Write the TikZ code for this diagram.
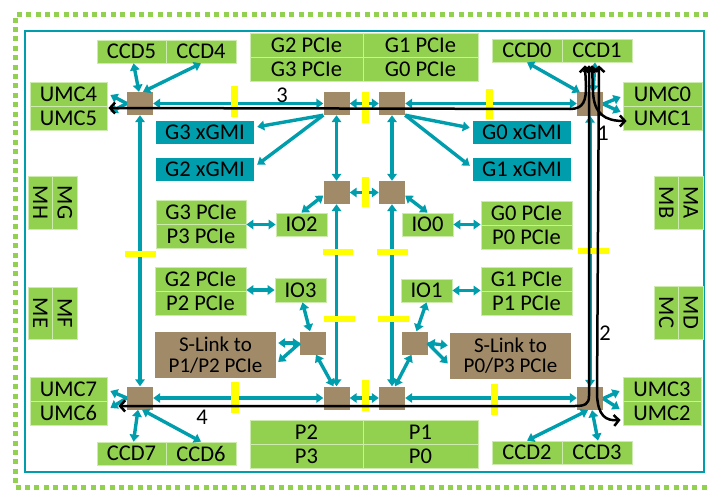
\documentclass[tikz,border=0pt]{standalone}
\usepackage{fontspec}
\setmainfont{Carlito}
\usetikzlibrary{arrows.meta,calc}
\definecolor{gr}{RGB}{146,208,80}
\definecolor{tl}{RGB}{0,158,172}
\definecolor{brn}{RGB}{160,138,104}
\definecolor{yl}{RGB}{255,255,0}
\definecolor{gline}{RGB}{205,235,175}
\begin{document}
\begin{tikzpicture}[x=1pt,y=-1pt,
 font=\fontsize{22.5}{22.5}\selectfont,
 gbox/.style={fill=gr,draw=gline,line width=0.8pt,inner sep=0pt,minimum height=24,text=black},
 tbox/.style={fill=tl,draw=none,inner sep=0pt,minimum width=98,minimum height=23},
 sw/.style={fill=brn,draw=none,minimum width=26,minimum height=23,inner sep=0pt},
 slink/.style={fill=brn,draw=none,minimum width=121,minimum height=46,inner sep=0pt,align=center,font=\fontsize{21}{20.5}\selectfont},
 ybar/.style={fill=yl,draw=none},
 con/.style={draw=tl,line width=3.4pt,{Triangle[length=7pt,width=9.5pt]}-{Triangle[length=7pt,width=9.5pt]}},
 conone/.style={draw=tl,line width=3.4pt,-{Triangle[length=7pt,width=9.5pt]}},
 bk/.style={draw=black,line width=2.5pt,{Straight Barb[length=5pt,width=11pt]}-{Straight Barb[length=5pt,width=11pt]}},
 num/.style={inner sep=0pt,text=black}
]
\useasboundingbox (0,0) rectangle (708,492);
% frames
\draw[gr,line width=5pt,dash pattern=on 5pt off 4.4pt] (708,15) -- (15,15) -- (15,487) -- (708,487);
\draw[tl,line width=2.5pt] (25,31) rectangle (704,472);

% top boxes
\node[gbox,minimum width=69,minimum height=23] (CCD5) at (131.5,51.5) {CCD5};
\node[gbox,minimum width=70,minimum height=23] (CCD4) at (201,51.5) {CCD4};
\node[gbox,minimum width=113] (G2Pt) at (306.5,45) {G2 PCIe};
\node[gbox,minimum width=115] (G1Pt) at (420.5,45) {G1 PCIe};
\node[gbox,minimum width=113] (G3Pt) at (306.5,69) {G3 PCIe};
\node[gbox,minimum width=115] (G0Pt) at (420.5,69) {G0 PCIe};
\node[gbox,minimum width=70,minimum height=23] (CCD0) at (527,50.5) {CCD0};
\node[gbox,minimum width=70,minimum height=23] (CCD1) at (597,50.5) {CCD1};
\node[gbox,minimum width=77] (UMC4) at (68.5,94) {UMC4};
\node[gbox,minimum width=77] (UMC5) at (68.5,118) {UMC5};
\node[gbox,minimum width=79] (UMC0) at (662.5,94) {UMC0};
\node[gbox,minimum width=79] (UMC1) at (662.5,118) {UMC1};

% xGMI
\node[tbox] (G3x) at (205,132.5) {G3 xGMI};
\node[tbox] (G2x) at (205,169.5) {G2 xGMI};
\node[tbox] (G0x) at (522,132.5) {G0 xGMI};
\node[tbox] (G1x) at (522,169.5) {G1 xGMI};

% side memory
\node[gbox,rotate=-90,minimum width=53,minimum height=24.5] (MH) at (40.25,202.5) {MH};
\node[gbox,rotate=-90,minimum width=53,minimum height=24.5] (MG) at (64.75,202.5) {MG};
\node[gbox,rotate=-90,minimum width=52,minimum height=24.5] (ME) at (40.25,313) {ME};
\node[gbox,rotate=-90,minimum width=52,minimum height=24.5] (MF) at (64.75,313) {MF};
\node[gbox,rotate=-90,minimum width=53,minimum height=24.5] (MB) at (666.25,202.5) {MB};
\node[gbox,rotate=-90,minimum width=53,minimum height=24.5] (MA) at (690.75,202.5) {MA};
\node[gbox,rotate=-90,minimum width=53,minimum height=24.5] (MC) at (666.25,312.5) {MC};
\node[gbox,rotate=-90,minimum width=53,minimum height=24.5] (MD) at (690.75,312.5) {MD};

% middle PCIe and IO
\node[gbox,minimum width=90] (G3m) at (201,212) {G3 PCIe};
\node[gbox,minimum width=90] (P3m) at (201,236) {P3 PCIe};
\node[gbox,minimum width=51,minimum height=23] (IO2) at (301.5,224.5) {IO2};
\node[gbox,minimum width=91] (G2m) at (200.5,279) {G2 PCIe};
\node[gbox,minimum width=91] (P2m) at (200.5,303) {P2 PCIe};
\node[gbox,minimum width=51] (IO3) at (300.5,290) {IO3};
\node[gbox,minimum width=51,minimum height=23] (IO0) at (427.5,224.5) {IO0};
\node[gbox,minimum width=91] (G0m) at (526.5,213) {G0 PCIe};
\node[gbox,minimum width=91] (P0m) at (526.5,237) {P0 PCIe};
\node[gbox,minimum width=51,minimum height=23] (IO1) at (426.5,290.5) {IO1};
\node[gbox,minimum width=91] (G1m) at (526.5,279) {G1 PCIe};
\node[gbox,minimum width=91] (P1m) at (526.5,303) {P1 PCIe};

% S-Link
\node[slink] (SLL) at (215.5,355) {S-Link to\\P1/P2 PCIe};
\node[slink] (SLR) at (510.5,355.5) {S-Link to\\P0/P3 PCIe};

% bottom boxes
\node[gbox,minimum width=77] (UMC7) at (68.5,389) {UMC7};
\node[gbox,minimum width=77] (UMC6) at (68.5,413) {UMC6};
\node[gbox,minimum width=78] (UMC3) at (662,389) {UMC3};
\node[gbox,minimum width=78] (UMC2) at (662,413) {UMC2};
\node[gbox,minimum width=69,minimum height=23] (CCD7) at (131.5,453.5) {CCD7};
\node[gbox,minimum width=70,minimum height=23] (CCD6) at (201,453.5) {CCD6};
\node[gbox,minimum width=113] (P2b) at (306.5,432) {P2};
\node[gbox,minimum width=115] (P1b) at (420.5,432) {P1};
\node[gbox,minimum width=113] (P3b) at (306.5,456) {P3};
\node[gbox,minimum width=115] (P0b) at (420.5,456) {P0};
\node[gbox,minimum width=70,minimum height=23] (CCD2) at (527,452.5) {CCD2};
\node[gbox,minimum width=70,minimum height=23] (CCD3) at (597,452.5) {CCD3};

% switches
\node[sw] (sTL) at (140,103.5) {};
\node[sw] (sT1) at (336.5,103.5) {};
\node[sw] (sT2) at (392,103.5) {};
\node[sw] (sTR) at (590,104) {};
\node[sw] (sM1) at (336.5,192.5) {};
\node[sw] (sM2) at (392,192.5) {};
\node[sw] (sL1) at (313,343) {};
\node[sw] (sL2) at (414.5,343) {};
\node[sw] (sBL) at (140,398) {};
\node[sw] (sB1) at (336.5,398) {};
\node[sw] (sB2) at (392,398) {};
\node[sw] (sBR) at (590,398.5) {};

% teal connectors: mesh
\draw[con] (sTL.east) -- (sT1.west);
\draw[con] (sT1.east) -- (sT2.west);
\draw[con] (sT2.east) -- (sT2.east -| sTR.west);
\draw[con] (sM1.east) -- (sM2.west);
\draw[con] (sBL.east) -- (sB1.west);
\draw[con] (sB1.east) -- (sB2.west);
\draw[con] (sB2.east) -- (sB2.east -| sBR.west);
\draw[con] (sTL.south) -- (sBL.north);
\draw[con] (sT1.south) -- (sM1.north);
\draw[con] (sM1.south) -- (sB1.north);
\draw[con] (sT2.south) -- (sM2.north);
\draw[con] (sM2.south) -- (sB2.north);
\draw[con] (sTR.south) -- (sBR.north);

% to CCD / UMC
\draw[con] ($(sTL.north)+(-1,0)$) -- ($(CCD5.south)+(2,0)$);
\draw[con] ($(sTL.north)+(3,0)$) -- (CCD4.south);
\draw[conone] (sTL.west) -- ($(UMC4.east)+(3,1)$);
\draw[conone] (sTL.west) -- ($(UMC5.east)+(3,-6)$);
\draw[con] ($(sTR.north west)+(3,0)$) -- (CCD0.south);
\draw[con] ($(sTR.north)+(3,0)$) -- ($(CCD1.south)+(-2,0)$);
\draw[conone] (sTR.east) -- ($(UMC0.west)+(-2,3)$);
\draw[conone] (sTR.east) -- ($(UMC1.west)+(-2,-6)$);
\draw[conone] (sBL.west) -- ($(UMC7.east)+(3,2)$);
\draw[conone] (sBL.west) -- ($(UMC6.east)+(3,-5)$);
\draw[con] ($(sBL.south)+(-2,0)$) -- ($(CCD7.north)+(2,0)$);
\draw[con] ($(sBL.south)+(2,0)$) -- (CCD6.north);
\draw[conone] (sBR.east) -- ($(UMC3.west)+(-3,2)$);
\draw[conone] (sBR.east) -- ($(UMC2.west)+(-3,-4)$);
\draw[con] ($(sBR.south)+(-2,0)$) -- (CCD2.north);
\draw[con] ($(sBR.south)+(2,0)$) -- ($(CCD3.north)+(1,0)$);

% to xGMI
\draw[conone] (sT1.south west) -- ($(G3x.north east)+(3,6)$);
\draw[conone] (sT1.south west) -- ($(G2x.north east)+(3,7)$);
\draw[conone] (sT2.south east) -- ($(G0x.north west)+(-3,7)$);
\draw[conone] (sT2.south east) -- ($(G1x.north west)+(-3,8)$);

% IO links
\draw[con] (IO2.north) -- ($(sM1.west)+(0,3)$);
\draw[con] (IO0.north) -- ($(sM2.east)+(0,3)$);
\draw[con] (IO2.west) -- (IO2.west -| G3m.east);
\draw[con] (IO3.west) -- (IO3.west -| G2m.east);
\draw[con] (IO0.east) -- (IO0.east -| G0m.west);
\draw[con] (IO1.east) -- (IO1.east -| G1m.west);
\draw[con] ($(IO3.south)+(2,0)$) -- ($(sL1.north)+(-3,0)$);
\draw[con] (IO1.south) -- ($(sL2.north)+(2,0)$);
\draw[con] (sL1.west) -- ($(SLL.east)+(2,-12)$);
\draw[conone] (sL1.west) -- ($(SLL.east)+(2,7)$);
\draw[con] (sL2.east) -- ($(SLR.west)+(-2,-10)$);
\draw[conone] (sL2.east) -- ($(SLR.west)+(-2,8)$);
\draw[con] ($(sL1.south)+(3,0)$) -- ($(sB1.north)+(-3,0)$);
\draw[con] ($(sL2.south)+(-3,0)$) -- ($(sB2.north)+(3,0)$);

% yellow bars
\fill[ybar] (231,86) rectangle (238,117);
\fill[ybar] (362,92) rectangle (369,123);
\fill[ybar] (486,89) rectangle (493,119);
\fill[ybar] (362,177) rectangle (369,207);
\fill[ybar] (125,251) rectangle (156,257);
\fill[ybar] (323,249) rectangle (353,255);
\fill[ybar] (324,316) rectangle (355,322);
\fill[ybar] (377,249) rectangle (408,255);
\fill[ybar] (378,316) rectangle (409,322);
\fill[ybar] (578,248) rectangle (609,254);
\fill[ybar] (231,382) rectangle (239,413);
\fill[ybar] (362,380) rectangle (369,411);
\fill[ybar] (491,384) rectangle (498,415);

% black paths
\draw[bk] ($(UMC5.east)+(1,-10)$) -- (570,109) .. controls (584,109) and (586,100) .. (586,86) -- ($(CCD1.south)+(-12,3)$);
\draw[bk] ($(CCD1.south)+(-5,3)$) -- (593,92) .. controls (594,114) and (605,121) .. ($(UMC1.west)+(4,3)$);
\draw[bk] ($(CCD1.south)+(2,3)$) -- (597,395) .. controls (598,416) and (606,421) .. ($(UMC2.west)+(-2,7)$);
\draw[bk] ($(CCD1.south)+(-8,3)$) -- (589,396) .. controls (589,404) and (585,406) .. (575,406) -- ($(UMC6.east)+(11,-7)$);

% labels
\node[num] (n1) at (603,133) {1};
\node[num] (n2) at (605,333) {2};
\node[num] (n3) at (282,95) {3};
\node[num] (n4) at (202,417) {4};
\end{tikzpicture}
\end{document}
